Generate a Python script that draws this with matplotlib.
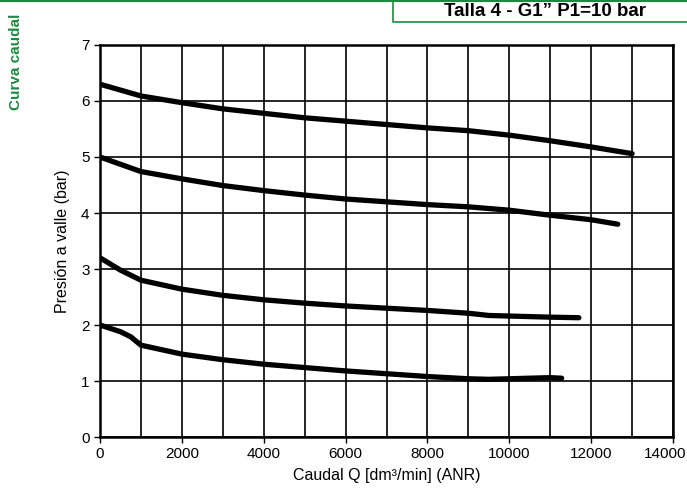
import matplotlib
matplotlib.use("Agg")
import matplotlib.pyplot as plt
import matplotlib.transforms as mtransforms
from matplotlib.lines import Line2D

plt.rcParams['font.family'] = ['Liberation Sans', 'DejaVu Sans']

GREEN = '#1b8a3e'

q1 = [0, 1000, 2000, 3000, 4000, 5000, 6000, 7000, 8000, 9000, 10000, 11000, 12000, 13000]
p1 = [6.3, 6.09, 5.97, 5.86, 5.78, 5.70, 5.64, 5.58, 5.52, 5.47, 5.39, 5.29, 5.18, 5.06]

q2 = [0, 1000, 2000, 3000, 4000, 5000, 6000, 7000, 8000, 9000, 10000, 11000, 12000, 12650]
p2 = [5.0, 4.74, 4.61, 4.49, 4.40, 4.32, 4.25, 4.20, 4.15, 4.11, 4.05, 3.96, 3.88, 3.80]

q3 = [0, 500, 1000, 2000, 3000, 4000, 5000, 6000, 7000, 8000, 9000, 9500, 10000, 11000, 11700]
p3 = [3.2, 2.98, 2.80, 2.64, 2.53, 2.45, 2.39, 2.34, 2.30, 2.26, 2.21, 2.17, 2.16, 2.14, 2.13]

q4 = [0, 500, 750, 1000, 2000, 3000, 4000, 5000, 6000, 7000, 8000, 9000, 9500, 10000, 11000, 11280]
p4 = [2.0, 1.88, 1.79, 1.64, 1.48, 1.38, 1.30, 1.24, 1.18, 1.13, 1.08, 1.04, 1.03, 1.04, 1.06, 1.05]

xticks = [0, 2000, 4000, 6000, 8000, 10000, 12000, 14000]
yticks = [0, 1, 2, 3, 4, 5, 6, 7]

fig = plt.figure(figsize=(6.87, 4.90), dpi=100)
ax = fig.add_axes([100/687, 1-437/490, 573/687, 392/490])

for q, p in [(q1, p1), (q2, p2), (q3, p3), (q4, p4)]:
    ax.plot(q, p, color='black', lw=3.8, solid_capstyle='round', solid_joinstyle='round', zorder=3)

ax.set_xlim(0, 14000)
ax.set_ylim(0, 7)
ax.set_xticks(xticks)
ax.set_yticks(yticks)
ax.set_xticks(range(0, 14001, 1000), minor=True)
ax.grid(True, which='both', axis='x', color='black', lw=1.2)
ax.grid(True, which='major', axis='y', color='black', lw=1.2)
ax.tick_params(axis='both', which='major', labelsize=11, length=4, width=1, direction='out')
ax.tick_params(axis='x', which='minor', length=0)
for s in ax.spines.values():
    s.set_linewidth(1.8)
ax.set_xlabel('Caudal Q [dm³/min] (ANR)', fontsize=11.5, labelpad=5)
ax.set_ylabel('Presión a valle (bar)', fontsize=11.5, labelpad=8)

# shift the last x tick label left so it stays inside the figure
fig.canvas.draw()
last = ax.get_xticklabels()[-1]
last.set_transform(last.get_transform() + mtransforms.ScaledTranslation(-8/100, 0, fig.dpi_scale_trans))

# header decorations
fig.add_artist(Line2D([0, 1], [1-1/490, 1-1/490], color=GREEN, lw=1.5, transform=fig.transFigure))
fig.add_artist(Line2D([393/687, 393/687, 1], [1, 1-22/490, 1-22/490], color=GREEN, lw=1.2, transform=fig.transFigure))
fig.text(545/687, 1-12/490, 'Talla 4 - G1” P1=10 bar', ha='center', va='center',
         fontsize=13.5, fontweight='bold')
fig.text(16/687, 1-62/490, 'Curva caudal', rotation=90, ha='center', va='center',
         fontsize=11, fontweight='bold', color=GREEN)

fig.savefig('out.png', dpi=100)
